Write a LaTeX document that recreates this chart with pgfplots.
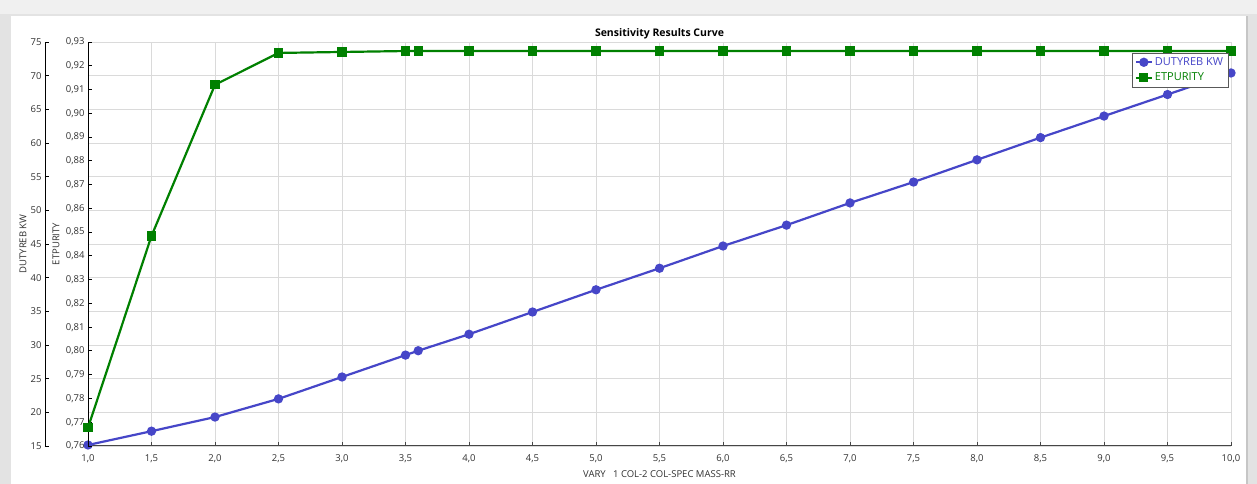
\documentclass[border=0pt]{standalone}
\usepackage{fontspec}
\setmainfont{Open Sans}
\usepackage{pgfplots}
\pgfplotsset{compat=1.18}
\usetikzlibrary{backgrounds,calc}
\definecolor{bl}{RGB}{70,70,200}
\definecolor{gr}{RGB}{0,128,0}
\definecolor{gridc}{RGB}{218,218,218}
\definecolor{txt}{RGB}{50,50,50}
\pgfplotsset{
  common/.style={
    scale only axis,
    width=1143pt, height=404pt, xmin=1, xmax=10,
    tick align=inside, major tick length=4pt,
    tick label style={font=\fontsize{9.5}{11}\selectfont, text=txt},
    /pgf/number format/assume math mode=true,
    label style={font=\fontsize{9.5}{11}\selectfont, text=txt},
    axis line style={-},
  }
}
\begin{document}
\begin{tikzpicture}
% Axis A: grid, x axis and DUTYREB series
\begin{axis}[common,
  ymin=15, ymax=75,
  xtick={1,1.5,2,2.5,3,3.5,4,4.5,5,5.5,6,6.5,7,7.5,8,8.5,9,9.5,10},
  ytick={15,20,25,30,35,40,45,50,55,60,65,70,75},
  yticklabels={},
  grid=major, major grid style={gridc, line width=0.9pt},
  axis x line*=bottom, axis y line*=left,
  y axis line style={draw=none}, ytick style={draw=none},
  x axis line style={gray!55!black, line width=1pt},
  xtick style={gray!55!black, line width=0.8pt},
  xticklabel style={yshift=-5pt, /pgf/number format/.cd, fixed, fixed zerofill, precision=1, use comma},
  xlabel={VARY\ \ \ 1 COL-2 COL-SPEC MASS-RR},
  xlabel style={at={(axis description cs:0.5,0)}, anchor=center, yshift=-28pt},
  title={\bfseries Sensitivity Results Curve},
  title style={at={(axis description cs:0.5,1)}, anchor=center, yshift=2pt, font=\fontsize{10.5}{12}\selectfont, text=black},
]
\coordinate (O) at (rel axis cs:0,0);
\addplot[bl, line width=2.2pt, mark=*, mark size=3.5pt] coordinates {
(1.0,15.15) (1.5,17.2) (2.0,19.3) (2.5,22.0) (3.0,25.25) (3.5,28.5) (3.6,29.15)
(4.0,31.6) (4.5,34.9) (5.0,38.2) (5.5,41.4) (6.0,44.7) (6.5,47.8) (7.0,51.1)
(7.5,54.2) (8.0,57.5) (8.5,60.8) (9.0,64.0) (9.5,67.2) (10.0,70.4)};
\end{axis}

% Axis B: ETPURITY series and axis
\begin{axis}[common,
  ymin=0.76, ymax=0.93,
  ytick={0.76,0.77,0.78,0.79,0.80,0.81,0.82,0.83,0.84,0.85,0.86,0.87,0.88,0.89,0.90,0.91,0.92,0.93},
  scaled y ticks=false,
  hide x axis, axis y line*=left,
  y axis line style={black, line width=0.9pt},
  ytick style={black, line width=0.9pt},
  yticklabel style={/pgf/number format/.cd, fixed, fixed zerofill, precision=2, use comma},
  ylabel={ETPURITY},
  ylabel style={at={(axis description cs:-0.028,0.5)}, anchor=center},
  legend style={at={(0.913,0.973)}, anchor=north west, draw=gray!70!black, fill=white,
    font=\fontsize{11}{13}\selectfont, inner xsep=3pt, inner ysep=2.5pt, row sep=2pt,
    cells={anchor=west}},
  legend image code/.code={\draw[mark repeat=2, mark phase=2, #1] plot coordinates {(0pt,0pt) (8pt,0pt) (16pt,0pt)};},
]
\addlegendimage{bl, line width=2.2pt, mark=*, mark size=3.5pt}
\addlegendentry{\textcolor{bl}{DUTYREB KW}}
\addplot[gr, line width=2.2pt, mark=square*, mark size=3.5pt] coordinates {
(1.0,0.7677) (1.5,0.8484) (2.0,0.912) (2.5,0.9254) (3.0,0.9258) (3.5,0.9262) (3.6,0.9262)
(4.0,0.9262) (4.5,0.9262) (5.0,0.9262) (5.5,0.9262) (6.0,0.9262) (6.5,0.9262) (7.0,0.9262)
(7.5,0.9262) (8.0,0.9262) (8.5,0.9262) (9.0,0.9262) (9.5,0.9262) (10.0,0.9262)};
\addlegendentry{\textcolor{gr}{ETPURITY}}
\end{axis}

% Axis C: DUTYREB scale, shifted left of the plot
\begin{axis}[common,
  at={(-43pt,0pt)},
  ymin=15, ymax=75,
  ytick={15,20,25,30,35,40,45,50,55,60,65,70,75},
  hide x axis, axis y line*=left,
  y axis line style={black, line width=0.9pt},
  ytick style={black, line width=0.9pt},
  ylabel={DUTYREB KW},
  ylabel style={at={(axis description cs:-0.0192,0.5)}, anchor=center},
]
\end{axis}

\begin{scope}[on background layer]
\fill[gray!22] ($(O)+(-88pt,-38pt)$) rectangle ($(O)+(1169pt,446pt)$);
\fill[gray!12] ($(O)+(-88pt,432pt)$) rectangle ($(O)+(1169pt,446pt)$);
\fill[white] ($(O)+(-77pt,-38pt)$) rectangle ($(O)+(1158pt,430pt)$);
\fill[gray!45] ($(O)+(1158pt,-38pt)$) rectangle ($(O)+(1160pt,430pt)$);
\end{scope}
\pgfresetboundingbox
\path[use as bounding box] ($(O)+(-88pt,-38pt)$) rectangle ($(O)+(1169pt,446pt)$);
\end{tikzpicture}
\end{document}
